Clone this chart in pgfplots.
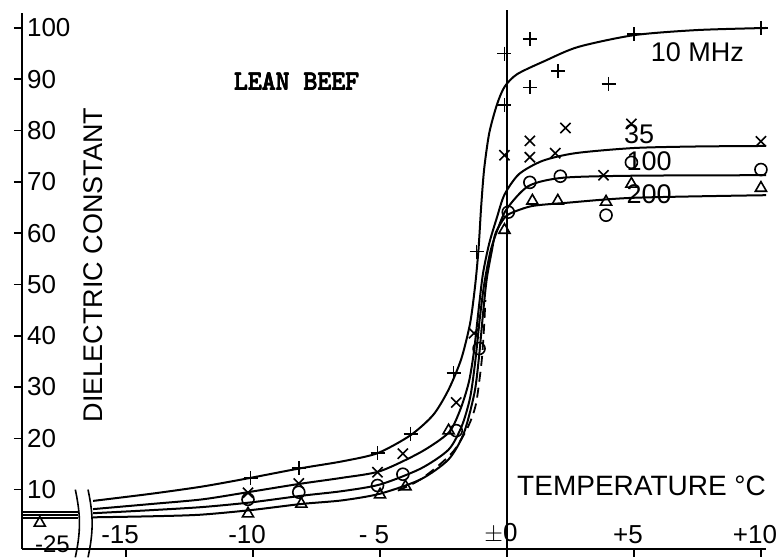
\documentclass[border=0pt]{standalone}
\usepackage{fontspec}
\setmainfont{Liberation Sans}
\usepackage{pgfplots}
\pgfplotsset{compat=1.18}

% curves
\pgfplotstableread{
x y
-16.3 7.8
-14 9.2
-12 10.6
-10.2 12.2
-8.2 14.1
-6.5 15.5
-5.1 17.1
-3.8 20.6
-2.9 24.6
-2.3 29.5
-1.8 35.5
-1.45 42.5
-1.25 50
-1.12 57
-1.02 65
-0.9 72.5
-0.7 79.5
-0.4 85
-0.1 88.5
0.4 91
1.5 93.6
2.8 96.3
5 98.6
7.5 99.6
10.2 100
}\tenmhz
\pgfplotstableread{
x y
-16.3 6.2
-14 7.2
-12 8.1
-10.2 9.5
-8.2 11.1
-6.5 12.3
-5 13.6
-3.4 17.3
-2.3 21.1
-1.84 25.6
-1.5 31
-1.3 37
-1.12 45
-0.95 52
-0.7 58
-0.4 63
-0.1 67.5
0.47 71.5
1.4 74.1
2.7 75.6
5 76.6
7.5 76.9
10.2 77
}\thirtyfive
\pgfplotstableread{
x y
-16.3 5.4
-14 6
-12 6.6
-10.1 7.5
-8.1 8.8
-6.5 9.7
-5 11
-3.4 14.1
-2.3 17.8
-1.78 22.4
-1.45 28
-1.25 35
-1.08 43
-0.9 50
-0.65 56.5
-0.35 61
0 64.8
0.85 69.2
2.2 70.8
5 71.2
10.2 71.3
}\hundred
\pgfplotstableread{
x y
-16.3 4.6
-14 4.8
-12.1 5.1
-10.1 6.0
-8.1 7.2
-6.5 7.9
-5 9.2
-3.4 12
-2.3 15.9
-1.7 21
-1.28 28.9
-1.1 36
-0.95 44
-0.8 51
-0.6 56.5
-0.45 60
-0.1 63
0.2 64
1.0 65.3
2.3 65.9
5 66.9
10.2 67.4
}\twohundred
\pgfplotstableread{
x y
-4.3 9.8
-3.5 11.7
-2.72 14.6
-2.06 17.8
-1.52 22.4
-1.24 26.3
-1.1 30.8
-0.98 36
-0.9 42
-0.85 47
}\dashedcurve

\begin{document}
\begin{tikzpicture}
\begin{axis}[
  scale only axis,
  width=372pt, height=268pt,
  xmin=-19.1, xmax=10.2,
  ymin=-1.5, ymax=103,
  axis lines*=left,
  axis line style={line width=0.9pt},
  tick align=outside,
  major tick length=4pt,
  tick style={line width=0.8pt, black},
  xtick={-15,-10,-5,0,5,10},
  xticklabels={-15,-10,- 5,$\pm$0,+5,+10},
  xticklabel style={anchor=south, yshift=3pt, xshift=-3pt, font=\fontsize{13}{15}\selectfont},
  ytick={10,20,...,100},
  yticklabels={10,20,30,40,50,60,70,80,90,100},
  yticklabel style={anchor=west, xshift=3pt, font=\fontsize{13}{15}\selectfont},
  clip=false,
  every axis plot/.append style={black},
  ]
  % frequency curves
  \addplot[line width=1pt, smooth, tension=0.45] table {\tenmhz};
  \addplot[line width=1pt, smooth, tension=0.45] table {\thirtyfive};
  \addplot[line width=1pt, smooth, tension=0.45] table {\hundred};
  \addplot[line width=1pt, smooth, tension=0.45] table {\twohundred};
  \addplot[line width=0.9pt, smooth, dash pattern=on 5pt off 3pt] table {\dashedcurve};
  % short pieces left of the scale break (-25)
  \addplot[line width=0.9pt] coordinates {(-19.1,5.7) (-16.9,5.7)};
  \addplot[line width=0.9pt] coordinates {(-19.1,5.0) (-16.9,5.0)};
  \addplot[line width=0.9pt] coordinates {(-19.1,4.4) (-16.9,4.4)};
  % zero line
  \addplot[line width=0.9pt] coordinates {(0,-1.5) (0,103.5)};
  % 10 MHz points
  \addplot[only marks, mark=+, mark size=3.5pt, line width=0.8pt] coordinates {
    (-10.1,12.3) (-8.2,14.2) (-5.1,17.1) (-3.8,20.9) (-2.1,32.7) (-1.2,56.4)
    (-0.1,85) (-0.1,95) (0.9,88.4) (0.9,97.8) (2.0,91.6) (4.0,89.1) (5.0,98.8) (10,100)};
  % 35 MHz points
  \addplot[only marks, mark=x, mark size=3.6pt, line width=0.8pt] coordinates {
    (-10.2,9.4) (-8.2,11.2) (-5.1,13.4) (-4.1,17.0) (-2.0,27.0) (-1.3,40.5)
    (-0.1,75.2) (0.9,74.8) (0.9,78.0) (1.9,75.6) (2.3,80.5) (3.8,71.3) (4.9,81.3) (10,77.9)};
  % 100 MHz points
  \addplot[only marks, mark=o, mark size=3pt, line width=0.8pt] coordinates {
    (-10.2,8.1) (-8.2,9.5) (-5.1,10.8) (-4.1,13) (-2.0,21.5) (-1.1,37.5)
    (0.05,64.1) (0.9,69.9) (2.1,71.1) (3.9,63.5) (4.9,73.8) (10,72.4)};
  % 200 MHz points
  \addplot[only marks, mark=triangle, mark size=3.2pt, line width=0.8pt] coordinates {
    (-18.4,3.5) (-10.2,5.3) (-8.1,7.2) (-5.0,9.0) (-4.0,10.6) (-2.3,21.5)
    (-0.1,60.6) (1.0,66.3) (2.0,66.3) (3.9,66.1) (4.9,69.6) (10,68.8)};
  % scale break
  \draw[line width=0.8pt] (axis cs:-17.0,10) to[bend left=12] (axis cs:-17.0,-3.2);
  \draw[line width=0.8pt] (axis cs:-16.5,10) to[bend left=12] (axis cs:-16.5,-3.2);
  \node[font=\fontsize{12}{14}\selectfont] at (axis cs:-17.9,-0.6) {-25};
  % texts
  \node[rotate=90, font=\fontsize{13.5}{16}\selectfont] at (axis cs:-16.3,53.8) {DIELECTRIC CONSTANT};
  % heavy typewriter title, thickened by overprinting
  \node[font=\ttfamily\fontsize{13.5}{15}\selectfont] at (axis cs:-8.3,89.5) {LEAN BEEF};
  \node[font=\ttfamily\fontsize{13.5}{15}\selectfont, xshift=0.4pt] at (axis cs:-8.3,89.5) {LEAN BEEF};
  \node[font=\ttfamily\fontsize{13.5}{15}\selectfont, yshift=0.4pt] at (axis cs:-8.3,89.5) {LEAN BEEF};
  \node[font=\ttfamily\fontsize{13.5}{15}\selectfont, xshift=0.4pt, yshift=0.4pt] at (axis cs:-8.3,89.5) {LEAN BEEF};
  \node[font=\ttfamily\fontsize{13.5}{15}\selectfont, xshift=0.2pt, yshift=0.2pt] at (axis cs:-8.3,89.5) {LEAN BEEF};
  \node[font=\fontsize{13.5}{16}\selectfont] at (axis cs:7.5,95.3) {10 MHz};
  \node[font=\fontsize{13.5}{16}\selectfont] at (axis cs:5.2,79.3) {35};
  \node[font=\fontsize{13.5}{16}\selectfont] at (axis cs:5.6,74) {100};
  \node[font=\fontsize{13.5}{16}\selectfont] at (axis cs:5.6,67.6) {200};
  \node[font=\fontsize{14}{16}\selectfont] at (axis cs:5.3,10.7) {TEMPERATURE °C};
  \coordinate (bl) at (rel axis cs:0,0);
  \coordinate (tr) at (rel axis cs:1,1);
\end{axis}
\pgfresetboundingbox
\path[use as bounding box] ([shift={(-11pt,-4.2pt)}]bl) rectangle ([shift={(7pt,6.3pt)}]tr);
\end{tikzpicture}
\end{document}
